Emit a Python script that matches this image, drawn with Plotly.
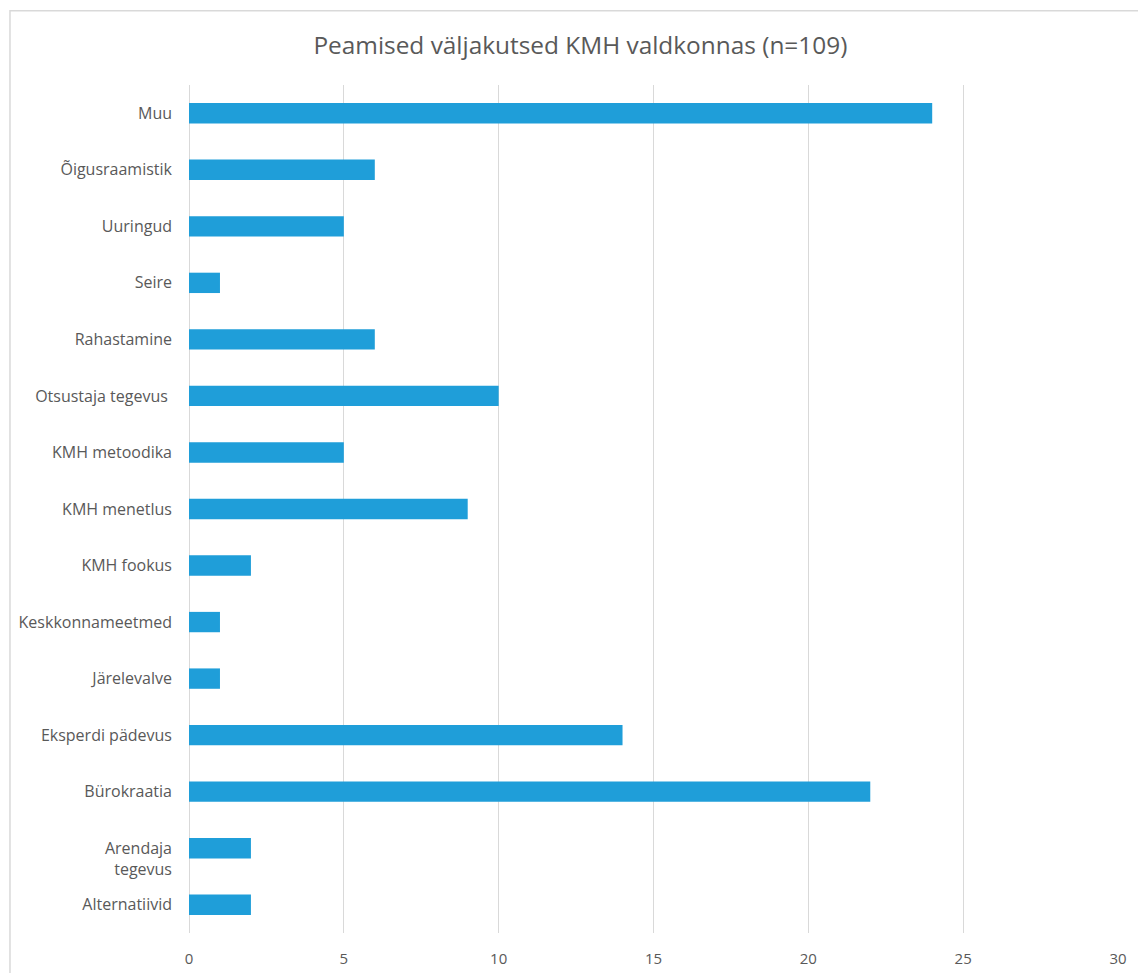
import plotly.graph_objects as go

# Categories listed bottom-to-top, as they appear on the vertical axis
categories = [
    "Alternatiivid",
    "Arendaja tegevus",
    "Bürokraatia",
    "Eksperdi pädevus",
    "Järelevalve",
    "Keskkonnameetmed",
    "KMH fookus",
    "KMH menetlus",
    "KMH metoodika",
    "Otsustaja tegevus ",
    "Rahastamine",
    "Seire",
    "Uuringud",
    "Õigusraamistik",
    "Muu",
]
counts = [2, 2, 22, 14, 1, 1, 2, 9, 5, 10, 6, 1, 5, 6, 24]

x_ticks = [0, 5, 10, 15, 20, 25, 30]

title_text = "Peamised väljakutsed KMH valdkonnas (n=109)"

BAR_COLOR = "#1F9ED9"
GRID_COLOR = "#D9D9D9"
TEXT_COLOR = "#595959"
FONT = "Open Sans, Segoe UI, Calibri, sans-serif"

# Long labels wrap onto a second line; the first line stays level with the bar
def wrap_label(name):
    if name == "Arendaja tegevus":
        return "<br>Arendaja<br>tegevus"
    return name

y_ticktext = [wrap_label(c) for c in categories]

fig = go.Figure(
    go.Bar(
        x=counts,
        y=categories,
        orientation="h",
        marker=dict(color=BAR_COLOR, line=dict(width=0)),
        hoverinfo="x+y",
    )
)

fig.update_layout(
    width=1138,
    height=973,
    margin=dict(l=189, r=20, t=85, b=40),
    paper_bgcolor="white",
    plot_bgcolor="white",
    bargap=0.64,
    showlegend=False,
    font=dict(family=FONT, color=TEXT_COLOR, size=15),
    title=dict(
        text=title_text,
        x=0.51,
        xanchor="center",
        y=0.953,
        yanchor="middle",
        font=dict(family=FONT, size=24.4, color=TEXT_COLOR),
    ),
    xaxis=dict(
        range=[0, 30],
        tickvals=x_ticks,
        showgrid=True,
        gridcolor=GRID_COLOR,
        gridwidth=1,
        zeroline=True,
        zerolinecolor=GRID_COLOR,
        zerolinewidth=1,
        showline=False,
        ticks="",
        tickfont=dict(size=15, color=TEXT_COLOR),
        ticklabelstandoff=15,
        automargin=False,
        fixedrange=True,
    ),
    yaxis=dict(
        categoryorder="array",
        categoryarray=categories,
        tickmode="array",
        tickvals=categories,
        ticktext=y_ticktext,
        showgrid=False,
        zeroline=False,
        showline=False,
        ticks="",
        tickfont=dict(size=16, color=TEXT_COLOR),
        ticklabelstandoff=16,
        automargin=False,
        fixedrange=True,
    ),
    shapes=[
        # outer chart frame (top and left edges visible; extends past the page)
        dict(
            type="rect",
            xref="paper",
            yref="paper",
            x0=-0.1927,
            x1=1.2,
            y0=-0.2,
            y1=1.0875,
            line=dict(color=GRID_COLOR, width=1.5),
            fillcolor="rgba(0,0,0,0)",
            layer="below",
        )
    ],
)

fig.write_html("out.html")
